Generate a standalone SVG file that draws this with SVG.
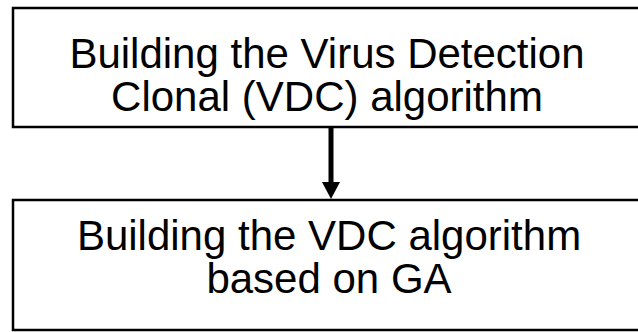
<svg xmlns="http://www.w3.org/2000/svg" width="638" height="332" viewBox="0 0 638 332">
  <style>
    .box { fill: #ffffff; stroke: #000000; stroke-width: 2.5; }
    .label { font-family: "Liberation Sans", Arial, sans-serif; font-size: 42px; fill: #000000; text-anchor: middle; }
    .link { stroke: #000000; stroke-width: 5; fill: none; }
    .head { fill: #000000; }
  </style>
  <rect width="638" height="332" fill="#ffffff"/>
  <g id="node-vdc-clonal">
    <rect class="box" x="13" y="8" width="640" height="119"/>
    <text class="label" x="327" y="68">Building the Virus Detection</text>
    <text class="label" x="327" y="111">Clonal (VDC) algorithm</text>
  </g>
  <g id="node-vdc-ga">
    <rect class="box" x="13" y="200" width="640" height="130"/>
    <text class="label" x="329" y="250">Building the VDC algorithm</text>
    <text class="label" x="329" y="293">based on GA</text>
  </g>
  <g id="connectors">
    <line class="link" x1="331" y1="127" x2="331" y2="184"/>
    <polygon class="head" points="322,182 340,182 331,199"/>
  </g>
</svg>
